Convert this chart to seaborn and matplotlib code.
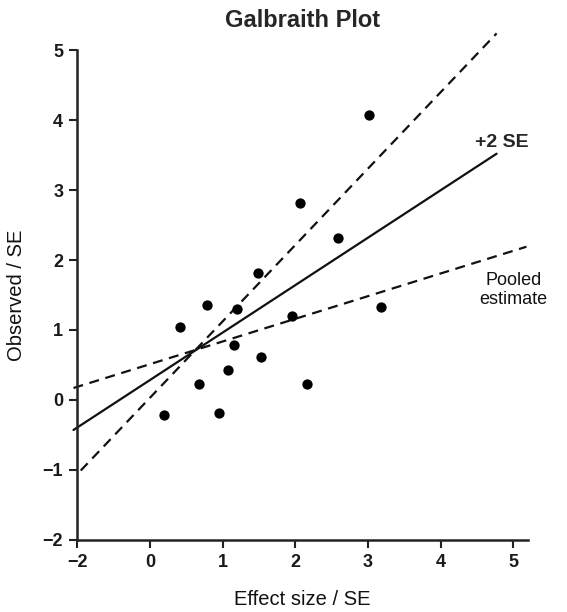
import matplotlib
matplotlib.use("Agg")
import matplotlib.pyplot as plt
import seaborn as sns
import pandas as pd

# Study points (effect size / SE, observed / SE)
x_vals = [0.19, 0.42, 0.67, 0.79, 0.95, 1.08, 1.16, 1.20, 1.49, 1.53,
          1.96, 2.16, 2.07, 2.59, 3.01, 3.18]
y_vals = [-0.22, 1.04, 0.23, 1.36, -0.19, 0.43, 0.79, 1.30, 1.82, 0.62,
          1.20, 0.23, 2.81, 2.31, 4.07, 1.33]

# Line endpoints
solid_x = [-1.05, 4.77]
solid_y = [-0.43, 3.52]
upper_x = [-0.95, 4.77]
upper_y = [-1.01, 5.24]
lower_x = [-1.05, 5.18]
lower_y = [0.17, 2.19]

x_ticks = [-1, 0, 1, 2, 3, 4, 5]
x_tick_labels = ["\u22122", "0", "1", "2", "3", "4", "5"]
y_ticks = [-2, -1, 0, 1, 2, 3, 4, 5]
y_tick_labels = ["\u22122", "\u22121", "0", "1", "2", "3", "4", "5"]

sns.set_style("ticks")
plt.rcParams['font.family'] = ['Liberation Sans', 'DejaVu Sans']

fig = plt.figure(figsize=(5.67, 6.12), dpi=100)
ax = fig.add_axes([0.136, 0.118, 0.795, 0.800])

pts = pd.DataFrame({"x": x_vals, "y": y_vals})
sns.scatterplot(data=pts, x="x", y="y", ax=ax, color="black", s=55,
                edgecolor="black", linewidth=0, zorder=3, clip_on=False)

for lx, ly, style in [(solid_x, solid_y, "solid"), (upper_x, upper_y, "dash"),
                      (lower_x, lower_y, "dash")]:
    d = pd.DataFrame({"x": lx, "y": ly})
    sns.lineplot(data=d, x="x", y="y", ax=ax, color="#111111", linewidth=1.6,
                 estimator=None, sort=False)
    line = ax.lines[-1]
    line.set_clip_on(False)
    if style == "dash":
        line.set_dashes((4.5, 3))

ax.set_xlim(-1.0, 5.2)
ax.set_ylim(-2, 5)
ax.set_xticks(x_ticks)
ax.set_xticklabels(x_tick_labels)
ax.set_yticks(y_ticks)
ax.set_yticklabels(y_tick_labels)
for lab in ax.get_xticklabels() + ax.get_yticklabels():
    lab.set_fontweight("bold")
    lab.set_fontsize(13)
    lab.set_color("#1a1a1a")
ax.tick_params(axis="both", length=6, width=1.5, color="#222222", pad=4)

sns.despine(ax=ax)
for sp in ["left", "bottom"]:
    ax.spines[sp].set_linewidth(1.8)
    ax.spines[sp].set_color("#222222")

ax.set_xlabel("Effect size / SE", fontsize=14.5, labelpad=14, color="#111111")
ax.set_ylabel("Observed / SE", fontsize=14.5, labelpad=12, color="#111111")
ax.set_title("Galbraith Plot", fontsize=17, fontweight="bold", pad=17)

ax.text(4.84, 3.68, "+2 SE", fontsize=14, fontweight="bold", ha="center",
        va="center")
ax.text(5.0, 1.57, "Pooled\nestimate", fontsize=13, ha="center", va="center",
        linespacing=1.15, color="#111111")

fig.savefig("out.png", dpi=100)
